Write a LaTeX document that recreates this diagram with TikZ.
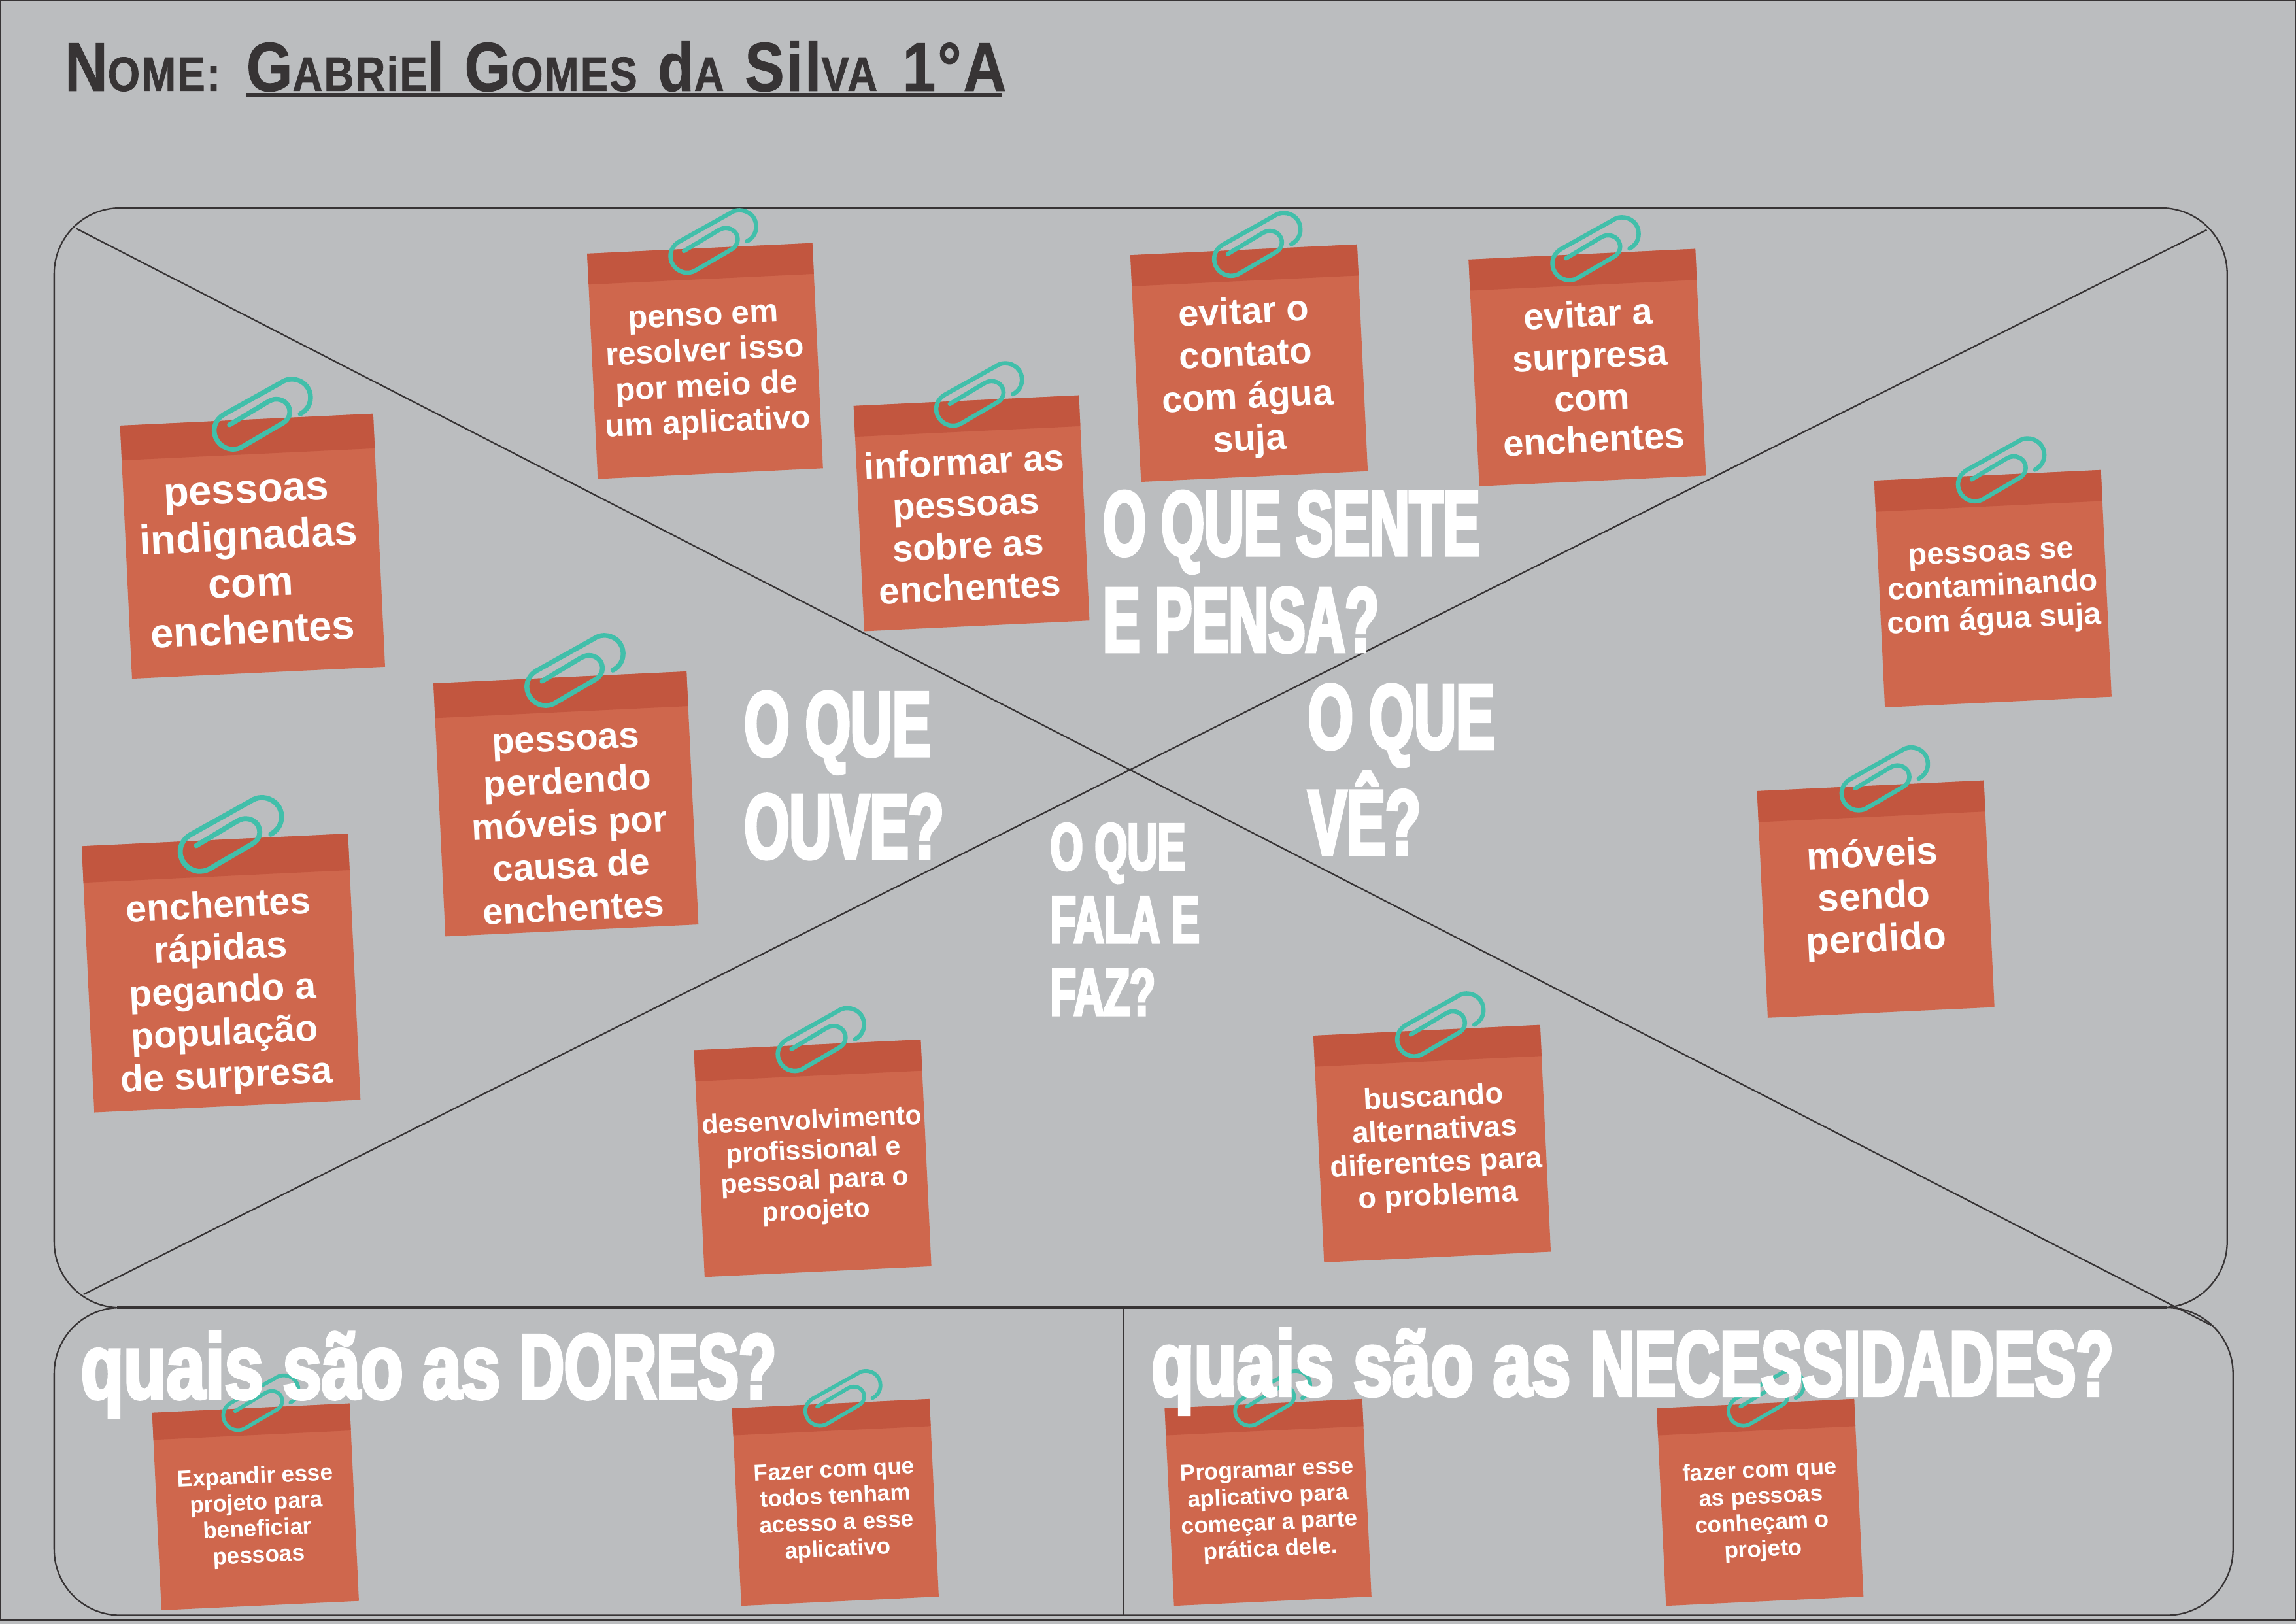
\documentclass[tikz,border=0pt]{standalone}
\usepackage{fontspec}
\setmainfont{Liberation Sans}
\newfontfamily\ttlA[FakeStretch=0.6,FakeBold=3.5,UprightFont={* Bold}]{Liberation Sans}
\newfontfamily\ttlD[FakeStretch=0.63,FakeBold=3.5,UprightFont={* Bold}]{Liberation Sans}
\newfontfamily\ttlB[FakeStretch=0.76,FakeBold=3.5,UprightFont={* Bold}]{Liberation Sans}
\newfontfamily\ttlC[FakeStretch=0.67,FakeBold=3.5,UprightFont={* Bold}]{Liberation Sans}
\newfontfamily\namef[FakeStretch=0.86,LetterSpace=3,FakeBold=1,UprightFont={* Bold}]{Liberation Sans}
\definecolor{bgc}{HTML}{BBBDBF}
\definecolor{linec}{HTML}{373435}
\definecolor{notec}{HTML}{CF674D}
\definecolor{bandc}{HTML}{C2563F}
\definecolor{clipc}{HTML}{41BFAA}
\newcommand{\fsz}[2]{\fontsize{#1pt}{#2pt}\selectfont}
\newcommand{\Bg}[1]{{\fontsize{30pt}{30pt}\selectfont #1}}
\newcommand{\Sm}[1]{{\fontsize{21pt}{30pt}\selectfont #1}}
\tikzset{
  rule/.style={draw=linec,line width=0.65pt},
  rulethick/.style={draw=linec,line width=1.3pt},
  notebody/.style={fill=notec,inner sep=0pt,rotate=2.7},
  notetext/.style={text=white,align=center,inner sep=0pt,rotate=2.7},
  title/.style={text=white,align=left,inner sep=0pt,anchor=north west},
  clipline/.style={draw=clipc,line cap=round,line join=round},
}
% name, centre, width, clip centre, text centre, font size, baseline, text
\newcommand{\sticky}[8]{%
  \node[notebody,minimum width=#3*0.0224cm,minimum height=#3*0.0224cm] (#1) at (#2) {};
  \begin{scope}[shift={(#2)},rotate=2.7]
    \pgfmathsetmacro{\hw}{#3/2}
    \pgfmathsetmacro{\bd}{-#3/2+0.137*#3}
    \fill[bandc] (-\hw,-\hw) rectangle (\hw,\bd);
  \end{scope}
  \pgfmathsetmacro{\ck}{#3/173/6.72}
  \pgfmathsetmacro{\cw}{2.1*#3/173}
  \begin{scope}[shift={(#4)},scale=\ck,shift={(-300,-250)}]
    \draw[clipline,line width=\cw pt] (475,248) .. controls (505,232) and (522,205) .. (522,172)
      .. controls (522,122) and (482,88) .. (435,88)
      .. controls (415,88) and (400,95) .. (385,105) -- (125,250)
      .. controls (95,268) and (80,295) .. (80,325)
      .. controls (80,370) and (120,410) .. (165,410)
      .. controls (185,410) and (200,405) .. (215,395) -- (395,290)
      .. controls (415,278) and (427,260) .. (427,240)
      .. controls (427,205) and (400,180) .. (365,180)
      .. controls (350,180) and (340,185) .. (325,193) -- (150,298);
  \end{scope}
  \node[notetext,font=\bfseries\fsz{#6}{#7}] (#1t) at (#5) {#8};
}
\begin{document}
\begin{tikzpicture}[x=0.0224cm,y=-0.0224cm]
\fill[bgc] (0,0) rectangle (1568,1109);
\useasboundingbox (0,0) rectangle (1568,1109);
\draw[rule] (0.5,0.5) rectangle (1567.5,1106.5);
% frames
\draw[rule,rounded corners=45*0.0224cm] (37,142) rectangle (1521,893);
\draw[rule,rounded corners=45*0.0224cm] (37,893) rectangle (1525,1103);
\draw[rulethick] (80,893) -- (1480,893);
\coordinate (dA) at (52,156);
\coordinate (dB) at (1510,905);
\coordinate (dC) at (1507,157);
\coordinate (dD) at (57,884);
\coordinate (vA) at (767,893);
\coordinate (vB) at (767,1103);
\draw[rule] (dA) -- (dB);
\draw[rule] (dC) -- (dD);
\draw[rule] (vA) -- (vB);
% notes
\sticky{a}{172.5,373}{173}{179,283}{170.5,384}{18}{20.4}{pessoas\\indignadas\\com\\enchentes}
\sticky{b}{481.5,246.5}{154}{487,165}{482,255}{14}{15.6}{penso em\\resolver isso\\por meio de\\um aplicativo}
\sticky{c}{853,248}{155}{858.5,167}{851.5,258}{16}{18.5}{evitar o\\contato\\com água\\suja}
\sticky{d}{1084,251}{155}{1089.5,170}{1086.5,257}{16}{18.2}{evitar a\\surpresa\\com\\enchentes}
\sticky{e}{663.5,350.5}{154}{668.5,269.5}{660.5,358}{16}{18.2}{informar as\\pessoas\\sobre as\\enchentes}
\sticky{f}{1361,402}{155}{1366.5,321}{1361,403}{13.4}{14.7}{pessoas se\\contaminando\\com água suja}
\sticky{g}{1281,614}{155}{1287,532}{1280,614}{16.6}{18.5}{móveis\\sendo\\perdido}
\sticky{h}{978,781}{155}{983.5,700}{980.5,784}{12.9}{14.3}{buscando\\alternativas\\diferentes para\\o problema}
\sticky{i}{555,791}{155}{560.5,710}{556,797}{11.7}{13.1}{desenvolvimento\\profissional e\\pessoal para o\\proojeto}
\sticky{j}{386.5,549}{173}{392.5,458}{389,564}{16}{18.5}{pessoas\\perdendo\\móveis por\\causa de\\enchentes}
\sticky{k}{151,664.5}{182}{157.5,570}{152,678}{16.3}{18.5}{enchentes\\rápidas\\pegando a\\população\\de surpresa}
\sticky{l}{174.5,1029}{135}{178,958}{175.5,1036}{10}{11.5}{Expandir esse\\projeto para\\beneficiar\\pessoas}
\sticky{m}{570.5,1026}{135}{575.5,955}{571,1032}{10}{11.5}{Fazer com que\\todos tenham\\acesso a esse\\aplicativo}
\sticky{n}{866,1026}{135}{869,955}{866.5,1032}{10}{11.5}{Programar esse\\aplicativo para\\começar a parte\\prática dele.}
\sticky{o}{1202,1026}{135}{1206,955}{1203,1032}{10}{11.5}{fazer com que\\as pessoas\\conheçam o\\projeto}
% titles
\node[title,font=\ttlA\fsz{40}{42}] (t1) at (753,335) {O QUE SENTE\\E PENSA?};
\node[title,font=\ttlD\fsz{40}{44.6}] (t2) at (508,472) {O QUE\\OUVE?};
\node[title,font=\ttlD\fsz{40}{46}] (t3) at (893,467) {O QUE\\VÊ?};
\node[title,font=\ttlD\fsz{29}{31.6}] (t4) at (717,562) {O QUE\\FALA E\\FAZ?};
\node[title,anchor=base west,font=\ttlB\fsz{40}{42}] (t5) at (55,955) {quais são as {\ttlC DORES?}};
\node[title,anchor=base west,font=\ttlB\fsz{40}{42}] (t6) at (786,953) {quais são as {\ttlC NECESSIDADES?}};
% name
\node[text=linec,inner sep=0pt,anchor=base west] (nm) at (44,62) {\namef\Bg{N}\Sm{OME:}};
\node[text=linec,inner sep=0pt,anchor=base west] (gb) at (168,62) {\namef\Bg{G}\Sm{ABRiE}\Bg{l}\hspace{9pt}\Bg{G}\Sm{OMES}\hspace{9pt}\Bg{d}\Sm{A}\hspace{9pt}\Bg{Sil}\Sm{VA}\hspace{11pt}\Bg{1°A}};
\coordinate (ulA) at (168,65);
\coordinate (ulB) at (684,65);
\draw[draw=linec,line width=1.2pt] (ulA) -- (ulB);
\end{tikzpicture}
\end{document}
